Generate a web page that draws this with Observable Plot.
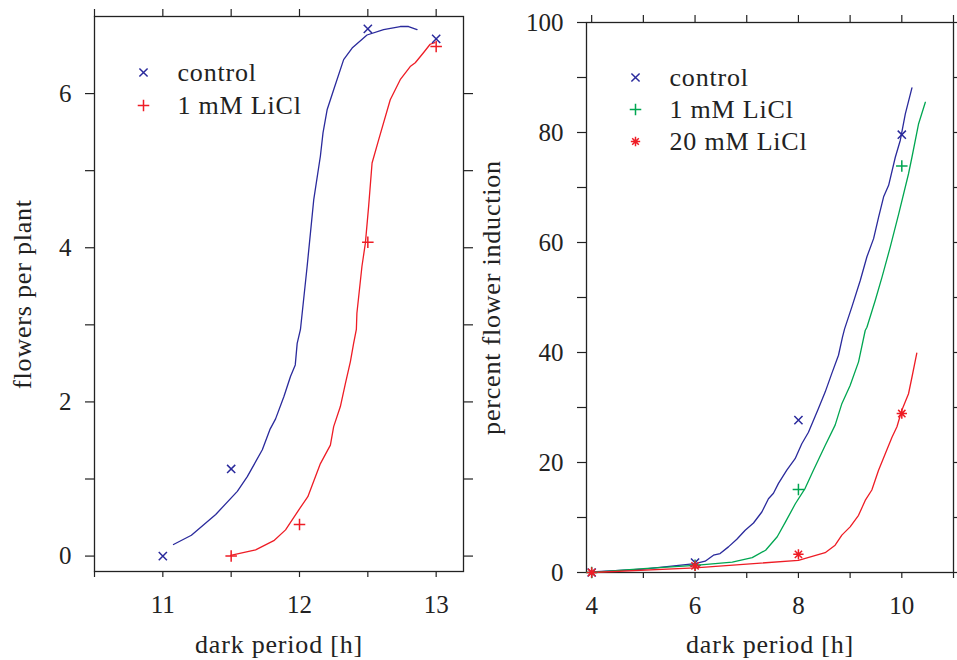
<!DOCTYPE html>
<html><head><meta charset="utf-8">
<script src="https://cdn.jsdelivr.net/npm/d3@7"></script>
<script src="https://cdn.jsdelivr.net/npm/@observablehq/plot@0.6"></script>
<style>
body{margin:0;background:#fff;font-family:"Liberation Serif",serif;}
#wrap{position:relative;width:957px;height:660px;overflow:hidden;background:#fff;}
#left{position:absolute;left:0;top:0;}
#right{position:absolute;left:478px;top:0;}
</style></head><body>
<div id="wrap"><div id="left"></div><div id="right"></div></div>
<script>
// ---------- Left panel data ----------
const leftCtrlMarkX = [11, 11.5, 12.5, 13];
const leftCtrlMarkY = [0, 1.13, 6.84, 6.71];
const leftLiMarkX = [11.5, 12, 12.5, 13];
const leftLiMarkY = [0, 0.41, 4.07, 6.61];
const leftCtrlCurveX = [11.078, 11.209, 11.387, 11.545, 11.618, 11.728, 11.783, 11.825, 11.886, 11.934, 11.969, 11.983, 12.007, 12.056, 12.104, 12.153, 12.172, 12.202, 12.25, 12.323, 12.385, 12.494, 12.615, 12.737, 12.798, 12.86];
const leftCtrlCurveY = [0.15, 0.27, 0.54, 0.84, 1.03, 1.38, 1.64, 1.78, 2.07, 2.33, 2.48, 2.76, 2.94, 3.76, 4.62, 5.19, 5.49, 5.79, 6.05, 6.44, 6.59, 6.76, 6.83, 6.87, 6.87, 6.83];
const leftLiCurveX = [11.496, 11.679, 11.812, 11.898, 11.995, 12.061, 12.153, 12.226, 12.25, 12.299, 12.336, 12.372, 12.396, 12.416, 12.42, 12.457, 12.482, 12.506, 12.531, 12.579, 12.664, 12.737, 12.81, 12.847, 12.907, 12.956, 12.99];
const leftLiCurveY = [0.01, 0.08, 0.2, 0.34, 0.6, 0.77, 1.2, 1.44, 1.68, 1.94, 2.24, 2.52, 2.76, 2.94, 3.15, 3.76, 4.06, 4.54, 5.1, 5.4, 5.92, 6.18, 6.35, 6.4, 6.53, 6.64, 6.66];
const leftXTicks = [10.5, 11, 11.5, 12, 12.5, 13];
const leftXLabels = [11, 12, 13];
const leftYTicks = [0, 1, 2, 3, 4, 5, 6];
const leftYLabels = [0, 2, 4, 6];
const leftLegend = ["control", "1 mM LiCl"];

// ---------- Right panel data ----------
const rightMarkX = [4, 6, 8, 10];
const rightCtrlMarkY = [0, 1.8, 27.7, 79.6];
const rightLi1MarkY = [0, 1.3, 15.1, 73.9];
const rightLi20MarkY = [0, 1.2, 3.3, 28.9];
const rightCtrlCurveX = [4.0, 5.0, 6.0, 6.196, 6.356, 6.485, 6.646, 6.808, 6.97, 7.131, 7.292, 7.42, 7.517, 7.614, 7.775, 7.936, 8.065, 8.194, 8.387, 8.517, 8.646, 8.775, 8.852, 8.893, 9.034, 9.196, 9.325, 9.454, 9.551, 9.648, 9.745, 9.874, 9.971, 10.068, 10.196];
const rightCtrlCurveY = [0.1, 0.6, 1.6, 2.05, 3.14, 3.45, 4.66, 6.05, 7.69, 9.0, 11.0, 13.4, 14.4, 16.2, 18.6, 20.7, 23.4, 25.5, 29.8, 32.8, 36.2, 39.5, 42.8, 44.3, 48.3, 53.1, 57.4, 60.7, 64.6, 68.3, 70.4, 75.5, 78.6, 83.4, 88.1];
const rightLi1CurveX = [4, 5, 6, 6.72, 7.106, 7.365, 7.59, 7.75, 7.94, 8.13, 8.29, 8.517, 8.71, 8.84, 9.0, 9.163, 9.292, 9.325, 9.487, 9.617, 9.777, 9.94, 10.13, 10.196, 10.325, 10.455];
const rightLi1CurveY = [0, 0.7, 1.3, 1.9, 2.7, 4.05, 6.5, 9.2, 12.5, 15.3, 18.6, 23.1, 26.8, 30.7, 34.0, 38.3, 44.0, 44.6, 49.5, 53.7, 59.2, 65.2, 72.5, 75.5, 81.6, 85.5];
const rightLi20CurveX = [4, 6, 8, 8.517, 8.71, 8.84, 9.0, 9.163, 9.292, 9.42, 9.55, 9.68, 9.81, 9.906, 10.0, 10.13, 10.196, 10.29];
const rightLi20CurveY = [0, 0.85, 2.2, 3.6, 4.96, 6.8, 8.3, 10.4, 13.1, 15.0, 18.6, 21.6, 24.6, 26.5, 29.5, 32.5, 35.5, 39.9];
const rightXTicks = [4, 5, 6, 7, 8, 9, 10, 11];
const rightXLabels = [4, 6, 8, 10];
const rightYTicks = [0, 10, 20, 30, 40, 50, 60, 70, 80, 90, 100];
const rightYLabels = [0, 20, 40, 60, 80, 100];
const rightLegend = ["control", "1 mM LiCl", "20 mM LiCl"];

// ---------- styling ----------
const BLUE = "#2a2a9c", RED = "#ee1c25", GREEN = "#00a651", INK = "#222";
const FONT = "Liberation Serif";
const idx = a => a.map((_, i) => i);

// eight-armed asterisk like the reference marker
const star8 = {
  draw(ctx, size) {
    const r = Math.sqrt(size / Math.PI) * 1.2, d = r * Math.SQRT1_2;
    ctx.moveTo(0, -r); ctx.lineTo(0, r);
    ctx.moveTo(-r, 0); ctx.lineTo(r, 0);
    ctx.moveTo(-d, -d); ctx.lineTo(d, d);
    ctx.moveTo(-d, d); ctx.lineTo(d, -d);
  }
};

function axes(xT, xL, yT, yL) {
  return [
    Plot.axisX(xT, {anchor: "bottom", tickSize: 6, tickPadding: 18, tickFormat: d => xL.includes(d) ? String(d) : "", label: null, strokeWidth: 1.2, fontFamily: FONT}),
    Plot.axisX(xT, {anchor: "top", tickSize: 8, tickFormat: () => "", label: null, strokeWidth: 1.2}),
    Plot.axisY(yT, {anchor: "left", tickSize: 9, tickPadding: 14, tickFormat: d => yL.includes(d) ? String(d) : "", label: null, strokeWidth: 1.2, fontFamily: FONT}),
    Plot.axisY(yT, {anchor: "right", tickSize: 9, tickFormat: () => "", label: null, strokeWidth: 1.2}),
    Plot.frame({stroke: INK, strokeWidth: 1.3})
  ];
}
function curve(X, Y, color) {
  return Plot.line(idx(X), {x: i => X[i], y: i => Y[i], stroke: color, strokeWidth: 1.3});
}
function marks(X, Y, color, symbol, r) {
  return Plot.dot(idx(X), {x: i => X[i], y: i => Y[i], stroke: color, symbol, r, strokeWidth: 1.5});
}
function legend(labels, colors, symbols, radii, rowY) {
  const out = [];
  labels.forEach((lab, k) => {
    out.push(Plot.dot([lab], {frameAnchor: "top-left", dx: 49, dy: rowY[k], stroke: colors[k], symbol: symbols[k], r: radii[k], strokeWidth: 1.5}));
    out.push(Plot.text([lab], {frameAnchor: "top-left", dx: 83, dy: rowY[k], text: d => d, textAnchor: "start", lineAnchor: "middle", fontSize: 26, fontFamily: FONT, fill: INK}));
  });
  return out;
}
const baseStyle = {fontFamily: FONT, fontSize: "25px", color: INK, background: "white", overflow: "visible"};

const left = Plot.plot({
  width: 478, height: 660,
  marginLeft: 94, marginRight: 15, marginTop: 16, marginBottom: 89,
  style: baseStyle,
  x: {domain: [10.5, 13.2]},
  y: {domain: [-0.2, 7.0]},
  marks: [
    ...axes(leftXTicks, leftXLabels, leftYTicks, leftYLabels),
    curve(leftCtrlCurveX, leftCtrlCurveY, BLUE),
    curve(leftLiCurveX, leftLiCurveY, RED),
    marks(leftCtrlMarkX, leftCtrlMarkY, BLUE, "times", 3.8),
    marks(leftLiMarkX, leftLiMarkY, RED, "plus", 3.8),
    ...legend(leftLegend, [BLUE, RED], ["times", "plus"], [3.8, 3.8], [56, 89]),
    Plot.text(["flowers per plant"], {frameAnchor: "left", text: d => d, rotate: -90, textAnchor: "middle", lineAnchor: "middle", dx: -72, fontSize: 26, fontFamily: FONT, fill: INK}),
    Plot.text(["dark period [h]"], {frameAnchor: "bottom", text: d => d, textAnchor: "middle", lineAnchor: "middle", dy: 73, fontSize: 26, fontFamily: FONT, fill: INK})
  ]
});

const right = Plot.plot({
  width: 479, height: 660,
  marginLeft: 108, marginRight: 4, marginTop: 22, marginBottom: 88,
  style: baseStyle,
  x: {domain: [3.9, 11.0]},
  y: {domain: [0, 100]},
  marks: [
    ...axes(rightXTicks, rightXLabels, rightYTicks, rightYLabels),
    curve(rightCtrlCurveX, rightCtrlCurveY, BLUE),
    curve(rightLi1CurveX, rightLi1CurveY, GREEN),
    curve(rightLi20CurveX, rightLi20CurveY, RED),
    marks(rightMarkX, rightCtrlMarkY, BLUE, "times", 3.8),
    marks(rightMarkX, rightLi1MarkY, GREEN, "plus", 3.8),
    marks(rightMarkX, rightLi20MarkY, RED, star8, 4.3),
    ...legend(rightLegend, [BLUE, GREEN, RED], ["times", "plus", star8], [3.8, 3.8, 3.9], [55, 87, 119]),
    Plot.text(["percent flower induction"], {frameAnchor: "left", text: d => d, rotate: -90, textAnchor: "middle", lineAnchor: "middle", dx: -95, fontSize: 26, fontFamily: FONT, fill: INK}),
    Plot.text(["dark period [h]"], {frameAnchor: "bottom", text: d => d, textAnchor: "middle", lineAnchor: "middle", dy: 72, fontSize: 26, fontFamily: FONT, fill: INK})
  ]
});

// slightly wider letter spacing for the labels and legend (Computer Modern is wider than Times)
for (const svg of [left, right]) {
  svg.querySelectorAll('g[aria-label="text"] text').forEach(el => el.style.letterSpacing = "0.8px");
}

document.getElementById("left").appendChild(left);
document.getElementById("right").appendChild(right);
</script>
</body></html>
